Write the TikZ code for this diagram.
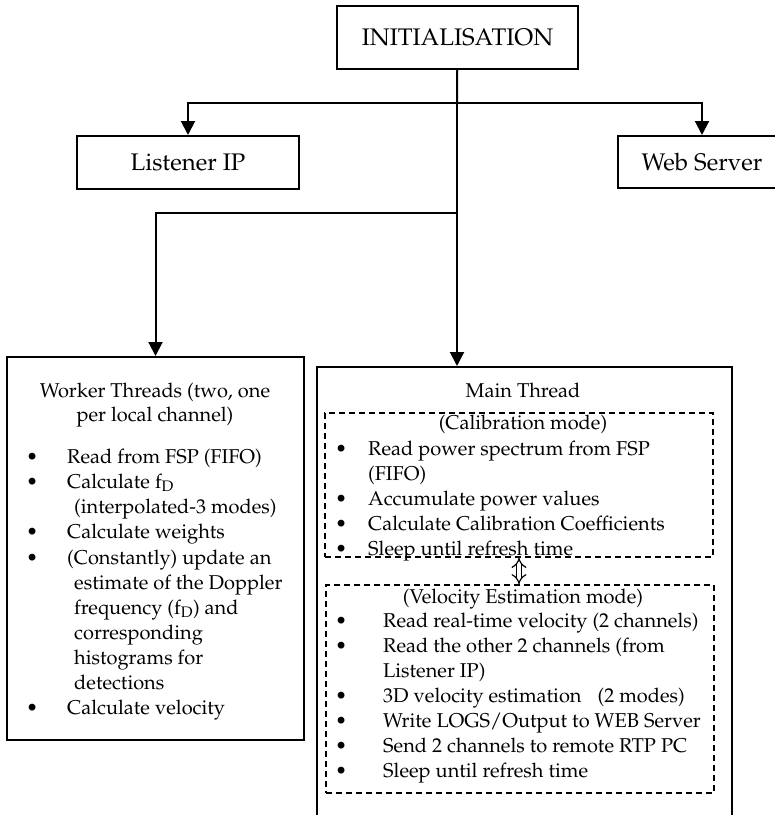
\documentclass[tikz,border=0pt]{standalone}
\usepackage[T1]{fontenc}
\usepackage{mathpazo}
\usetikzlibrary{arrows.meta,positioning}

\begin{document}
\begin{tikzpicture}[x=1pt,y=-1pt,
    box/.style={draw,line width=2pt,inner sep=0pt},
    modebox/.style={draw,dash pattern=on 6pt off 4pt,line width=1.7pt,inner sep=0pt},
    link/.style={line width=2pt,-{Triangle[width=14pt,length=14pt]}},
    line/.style={anchor=base west,inner sep=0pt,font=\fontsize{20}{25}\selectfont},
    title/.style={anchor=base,inner sep=0pt,font=\fontsize{20}{25}\selectfont}]
    \useasboundingbox (0,0) rectangle (775,815);

    % Top level
    \node[box,minimum width=241pt,minimum height=63pt,font=\fontsize{24}{28}\selectfont] (init) at (457.5,37.5) {INITIALISATION};
    \node[box,minimum width=222pt,minimum height=53pt,font=\fontsize{24}{28}\selectfont] (listener) at (188,162.5) {Listener IP};
    \node[box,minimum width=168pt,minimum height=52pt,font=\fontsize{24}{28}\selectfont] (web) at (702,162) {Web Server};

    % Threads
    \node[box,minimum width=297pt,minimum height=383pt] (worker) at (155.5,548.5) {};
    \node[box,minimum width=415pt,minimum height=455pt] (main) at (524.5,594.5) {};
    \node[modebox,minimum width=388pt,minimum height=144pt] (calib) at (519,485) {};
    \node[modebox,minimum width=388pt,minimum height=208pt] (velo) at (520,689) {};

    % Connectors
    \coordinate (split) at (457,103);
    \coordinate (wsplit) at (457,213);
    \draw[line width=2pt] (init) -- (split);
    \draw[link] (split) -| (listener);
    \draw[link] (split) -| (web);
    \draw[link] (split) -- (split |- main.north);
    \draw[link] (wsplit) -| (worker);
    \draw[line width=1.2pt,double,double distance=4pt,{Implies[length=7pt]}-{Implies[length=7pt]}] (calib.south) -- (calib.south |- velo.north);

    % Worker threads text
    \node[title] (wt1) at (155,397) {Worker Threads (two, one};
    \node[title] (wt2) at (155,421) {per local channel)};
    \foreach \y in {463,488,538,564,714}
        \node[line] (wb\y) at (26,\y) {\textbullet};
    \foreach \x/\y/\txt [count=\i] in {67/463/{Read from FSP (FIFO)},
        67/488/{Calculate f\textsubscript{D}},
        74/513/{(interpolated-3 modes)},
        67/538/{Calculate weights},
        67/564/{(Constantly) update an},
        74/589/{estimate of the Doppler},
        74/614/{frequency (f\textsubscript{D}) and},
        74/639/{corresponding},
        74/664/{histograms for},
        74/689/{detections},
        67/714/{Calculate velocity}}
        \node[line] (w\i) at (\x,\y) {\txt};

    % Main thread text
    \node[title] (mt) at (523,397) {Main Thread};
    \node[title] (ct) at (523,429) {(Calibration mode)};
    \foreach \y in {455,505,530,555}
        \node[line] (cb\y) at (335,\y) {\textbullet};
    \foreach \y/\txt [count=\i] in {455/{Read power spectrum from FSP},
        480/{(FIFO)},
        505/{Accumulate power values},
        530/{Calculate Calibration Coefficients},
        555/{Sleep until refresh time}}
        \node[line] (c\i) at (368,\y) {\txt};

    \node[title] (vt) at (523,603) {(Velocity Estimation mode)};
    \foreach \y in {627,652,702,727,752,777}
        \node[line] (vb\y) at (335,\y) {\textbullet};
    \foreach \y/\txt [count=\i] in {627/{Read real-time velocity (2 channels)},
        652/{Read the other 2 channels (from},
        677/{Listener IP)},
        702/{3D velocity estimation\hspace*{16pt}(2 modes)},
        727/{Write LOGS/Output to WEB Server},
        752/{Send 2 channels to remote RTP PC},
        777/{Sleep until refresh time}}
        \node[line] (v\i) at (383,\y) {\txt};
\end{tikzpicture}
\end{document}
